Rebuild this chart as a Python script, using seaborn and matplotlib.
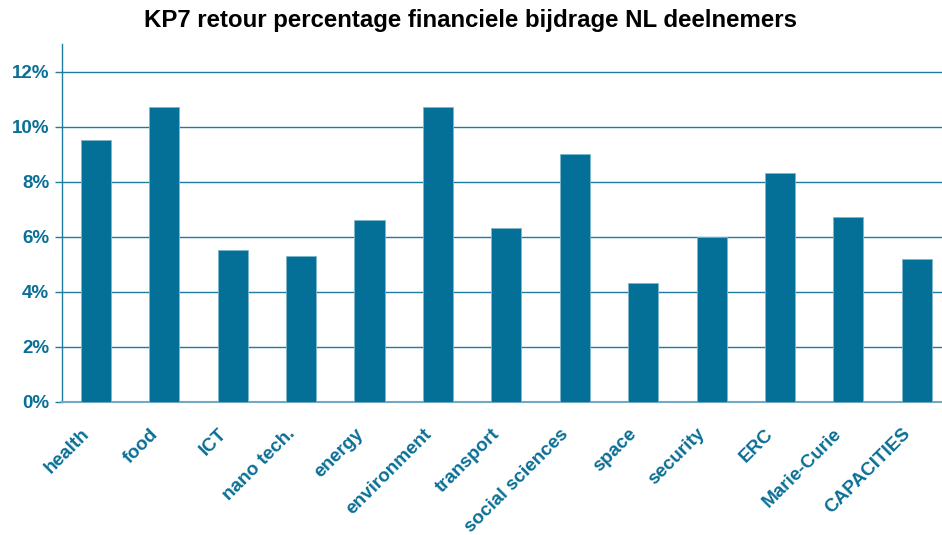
import matplotlib
matplotlib.use("Agg")
import matplotlib.pyplot as plt
import matplotlib.transforms as mtransforms
import seaborn as sns
import pandas as pd
from matplotlib.ticker import FuncFormatter

# themes and percentages
themes = ["health", "food", "ICT", "nano tech.", "energy", "environment",
          "transport", "social sciences", "space", "security", "ERC",
          "Marie-Curie", "CAPACITIES"]
retour_pct = [9.5, 10.7, 5.5, 5.3, 6.6, 10.7, 6.3, 9.0, 4.3, 6.0, 8.3, 6.7, 5.2]
y_ticks = [0, 2, 4, 6, 8, 10, 12]

BAR_COLOR = "#046f97"
TEXT_COLOR = "#0a6f96"
GRID_COLOR = "#1f7ba1"
AXIS_COLOR = "#6fa9c2"

sns.set_style("white")
plt.rcParams["font.family"] = ["Liberation Sans", "DejaVu Sans"]

df = pd.DataFrame({"theme": themes, "pct": retour_pct})

fig = plt.figure(figsize=(9.42, 5.35), dpi=100)
ax = fig.add_axes([61.7 / 942, 1 - 401.7 / 535, 889.3 / 942, 357.7 / 535])

sns.barplot(data=df, x="theme", y="pct", color=BAR_COLOR, saturation=1,
            width=0.44, edgecolor="#7fb6cc", linewidth=0.6, ax=ax, zorder=3)

ax.set_ylim(0, 13)
ax.set_xlim(-0.5, len(themes) - 0.5)
ax.set_yticks(y_ticks)
ax.yaxis.set_major_formatter(FuncFormatter(lambda v, p: f"{v:.0f}%"))
ax.yaxis.grid(True, color=GRID_COLOR, linewidth=1.0, zorder=0)
ax.set_axisbelow(True)

for side in ["top", "right"]:
    ax.spines[side].set_visible(False)
ax.spines["left"].set_color(GRID_COLOR)
ax.spines["left"].set_linewidth(1.0)
ax.spines["bottom"].set_color(AXIS_COLOR)
ax.spines["bottom"].set_linewidth(1.5)

ax.tick_params(axis="y", length=5, width=1, color=GRID_COLOR, direction="out",
               labelsize=13.5, labelcolor=TEXT_COLOR, pad=4, left=True)
ax.tick_params(axis="x", length=0, labelsize=13.6, labelcolor=TEXT_COLOR, pad=17)
for lbl in ax.get_yticklabels():
    lbl.set_fontweight("bold")
shift = mtransforms.ScaledTranslation(-15 / 100, 0, fig.dpi_scale_trans)
for lbl in ax.get_xticklabels():
    lbl.set_fontweight("bold")
    lbl.set_rotation(45)
    lbl.set_ha("right")
    lbl.set_rotation_mode("anchor")
    lbl.set_transform(lbl.get_transform() + shift)

ax.set_xlabel("")
ax.set_ylabel("")

fig.text(0.5, 1 - 21 / 535, "KP7 retour percentage financiele bijdrage NL deelnemers",
         ha="center", va="center", fontsize=17.3, fontweight="bold", color="black")

plt.savefig("out.png", dpi=100)
